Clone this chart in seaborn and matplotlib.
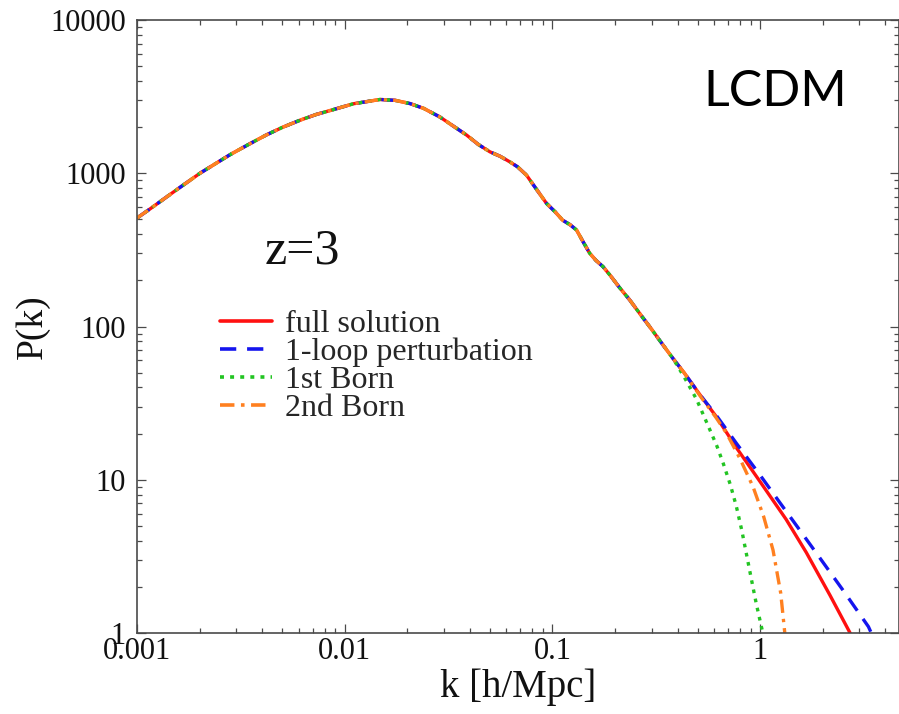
import numpy as np
import pandas as pd
import matplotlib
matplotlib.use("Agg")
import matplotlib.pyplot as plt
import matplotlib.ticker as mticker
import seaborn as sns

# ---- data ----
k_shared = [0.001, 0.001155, 0.00152, 0.00201, 0.0028, 0.0035, 0.0042, 0.0050,
            0.0061, 0.0073, 0.0088, 0.011, 0.0148, 0.0175, 0.0206, 0.024,
            0.0287, 0.033, 0.0386, 0.044, 0.050, 0.056, 0.0624, 0.068, 0.075,
            0.083, 0.0937, 0.103, 0.112, 0.122, 0.1306, 0.140, 0.151, 0.162,
            0.175, 0.190, 0.210, 0.2355, 0.270, 0.300, 0.340, 0.380]
P_shared = [510, 585, 765, 1000, 1320, 1560, 1780, 1990,
            2220, 2420, 2600, 2840, 3030, 2990, 2850, 2650,
            2330, 2050, 1775, 1540, 1380, 1290, 1186, 1100, 972,
            800, 635, 560, 494, 460, 426, 360, 301, 270,
            246, 215, 180, 149, 116, 96, 76, 62]

k_full_tail = [0.43, 0.512, 0.615, 0.768, 1.0, 1.335, 1.668, 2.17, 2.71]
P_full_tail = [50, 36, 25.8, 16.2, 9.7, 5.5, 3.35, 1.76, 1.0]

k_loop_tail = [0.43, 0.512, 0.615, 0.768, 1.0, 1.243, 1.55, 2.0, 2.52, 3.32, 3.45]
P_loop_tail = [50, 36, 26.3, 17.3, 10.7, 7.1, 4.7, 2.91, 1.88, 1.1, 0.98]

k_born1_tail = [0.43, 0.494, 0.57, 0.62, 0.664, 0.72, 0.768, 0.815, 0.858,
                0.91, 0.958, 1.03]
P_born1_tail = [47, 33.5, 21.5, 16.5, 12.8, 9.2, 6.7, 4.7, 3.3,
                2.2, 1.55, 1.0]

k_born2_tail = [0.43, 0.512, 0.615, 0.689, 0.798, 0.924, 1.04, 1.153, 1.256, 1.314]
P_born2_tail = [50, 35.5, 25.3, 20.1, 13.8, 9.0, 5.74, 3.48, 1.82, 1.0]

series_names = ["full solution", "1-loop perturbation", "1st Born", "2nd Born"]
x_ticks = [0.001, 0.01, 0.1, 1]
x_ticklabels = ["0.001", "0.01", "0.1", "1"]
y_ticks = [1, 10, 100, 1000, 10000]
y_ticklabels = ["1", "10", "100", "1000", "10000"]

tails = {
    "full solution": (k_full_tail, P_full_tail),
    "1-loop perturbation": (k_loop_tail, P_loop_tail),
    "1st Born": (k_born1_tail, P_born1_tail),
    "2nd Born": (k_born2_tail, P_born2_tail),
}
frames = []
for name in series_names:
    kt, pt = tails[name]
    frames.append(pd.DataFrame({"k": k_shared + kt, "P": P_shared + pt, "series": name}))
df = pd.concat(frames, ignore_index=True)

# ---- style ----
sns.set_theme(style="ticks")
plt.rcParams["font.family"] = ["Liberation Serif", "DejaVu Serif"]

palette = {"full solution": "#ff1010", "1-loop perturbation": "#1515ee",
           "1st Born": "#22c422", "2nd Born": "#ff8020"}
dashes = {"full solution": "", "1-loop perturbation": (4.5, 3.0),
          "1st Born": (1.1, 1.7), "2nd Born": (4.0, 1.8, 1.0, 1.8)}

W, H = 899, 714
fig = plt.figure(figsize=(W / 100, H / 100), dpi=100)
ax = fig.add_axes([137 / W, 81 / H, (W - 137) / W, 613 / H])

sns.lineplot(data=df, x="k", y="P", hue="series", style="series",
             hue_order=series_names, style_order=series_names,
             palette=palette, dashes=dashes, estimator=None, sort=False,
             linewidth=2.4, ax=ax, legend="full")

ax.set_xscale("log")
ax.set_yscale("log")
ax.set_xlim(0.001, 4.66)
ax.set_ylim(1, 10000)

ax.xaxis.set_major_locator(mticker.FixedLocator(x_ticks))
ax.xaxis.set_major_formatter(mticker.FixedFormatter(x_ticklabels))
ax.yaxis.set_major_locator(mticker.FixedLocator(y_ticks))
ax.yaxis.set_major_formatter(mticker.FixedFormatter(y_ticklabels))
ax.xaxis.set_minor_locator(mticker.LogLocator(base=10, subs=np.arange(2, 10), numticks=20))
ax.yaxis.set_minor_locator(mticker.LogLocator(base=10, subs=np.arange(2, 10), numticks=20))
ax.xaxis.set_minor_formatter(mticker.NullFormatter())
ax.yaxis.set_minor_formatter(mticker.NullFormatter())

spine_col = "#4a4a4a"
for s in ax.spines.values():
    s.set_visible(True)
    s.set_color(spine_col)
    s.set_linewidth(1.2)
ax.tick_params(which="both", direction="in", top=True, right=True,
               color=spine_col, width=0.9)
ax.tick_params(which="major", length=6.5)
ax.tick_params(which="minor", length=3.5)
ax.tick_params(axis="x", which="major", labelsize=22, pad=3, labelcolor="#111111")
ax.tick_params(axis="y", which="major", labelsize=22, pad=8, labelcolor="#111111")

ax.set_xlabel("k [h/Mpc]", fontsize=28, color="#111111", labelpad=2)
ax.set_ylabel("P(k)", fontsize=27, color="#111111")
ax.yaxis.set_label_coords((50 - 137) / (W - 137), 0.5)

handles, labels = ax.get_legend_handles_labels()
pairs = [(h, l) for h, l in zip(handles, labels) if l in series_names]
leg = ax.legend([p[0] for p in pairs], [p[1] for p in pairs],
                loc="upper left", bbox_to_anchor=(220 / W, 1 - 310 / H),
                bbox_transform=fig.transFigure, frameon=False,
                fontsize=23, handlelength=1.63, handletextpad=0.4,
                labelspacing=-0.05, borderpad=0, borderaxespad=0)
for line in leg.get_lines():
    line.set_linewidth(2.6)

fig.text(265 / W, 1 - 263 / H, "z=3", fontsize=36, ha="left", va="baseline",
         color="#111111")
fig.text(703 / W, 1 - 106 / H, "LCDM", fontsize=36, ha="left", va="baseline",
         family=["Lato", "DejaVu Sans"], color="black")

fig.savefig("out.png", dpi=100)
